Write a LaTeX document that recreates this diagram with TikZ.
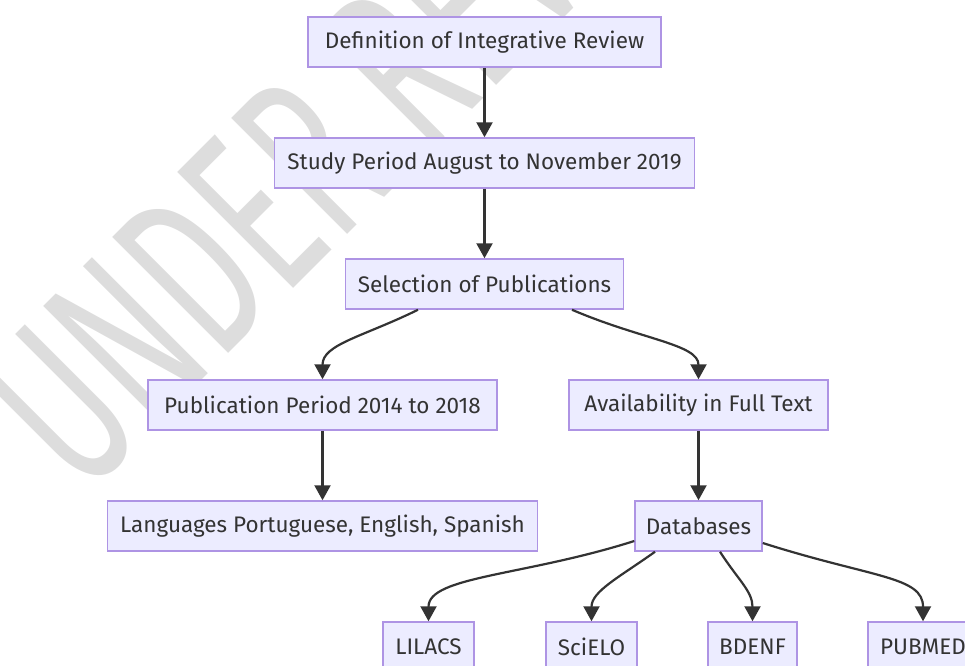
\documentclass[tikz,border=0pt]{standalone}
\usepackage{fontspec}
\setmainfont{Fira Sans}
\usetikzlibrary{positioning,arrows.meta}
\definecolor{boxfill}{HTML}{ECECFF}
\definecolor{boxline}{HTML}{AE94E4}
\definecolor{ink}{HTML}{333333}
\definecolor{wmark}{HTML}{DDDDDD}

\begin{document}
\begin{tikzpicture}[x=1pt,y=1pt,>={Triangle[length=15pt,width=16pt]},
  box/.style={rectangle,draw=boxline,fill=boxfill,line width=1.5pt,text=ink,inner sep=0pt,
    minimum height=50pt,font=\fontsize{22.5}{24}\selectfont},
  link/.style={->,draw=ink,line width=2.2pt}]
\clip (0,0) rectangle (965,-665);
\useasboundingbox (0,0) rectangle (965,-665);

% watermark behind everything
\node[rotate=45,xscale=0.6,anchor=base west,text=wmark,inner sep=0pt,
  font=\fontsize{238}{238}\selectfont] (wm) at (83,-499) {UNDER REVIEW};

\path
(484.5,-42)  node[box,minimum width=353pt] (def)   {Definition of Integrative Review}
(484.5,-163) node[box,minimum width=420pt] (study) {Study Period August to November 2019}
(484.5,-284) node[box,minimum width=278pt] (sel)   {Selection of Publications}
(322.5,-405) node[box,minimum width=349pt] (pub)   {Publication Period 2014 to 2018}
(698.5,-405) node[box,minimum width=259pt] (avail) {Availability in Full Text}
(322.5,-526) node[box,minimum width=430pt] (lang)  {Languages Portuguese, English, Spanish}
(698.5,-526) node[box,minimum width=127pt] (db)    {Databases}
(428.5,-647) node[box,minimum width=91pt]  (lil)   {LILACS}
(591.5,-647) node[box,minimum width=91pt]  (sci)   {SciELO}
(752.5,-647) node[box,minimum width=89pt]  (bde)   {BDENF}
(923,-647)   node[box,minimum width=110pt] (pmd)   {PUBMED};

\draw[link] (def)--(study);
\draw[link] (study)--(sel);
\draw[link] ([xshift=-66.5pt]sel.south) .. controls +(-55,-27) and +(0,35) .. (pub.north);
\draw[link] ([xshift=87.5pt]sel.south) .. controls +(70,-30) and +(0,35) .. (avail.north);
\draw[link] (pub)--(lang);
\draw[link] (avail)--(db);

\draw[link] ([yshift=-15pt]db.west) .. controls +(-110,-35) and +(0,45) .. (lil.north);
\draw[link] ([xshift=-43.5pt]db.south) .. controls +(-35,-25) and +(0,30) .. (sci.north);
\draw[link] ([xshift=21.5pt]db.south) .. controls +(18,-28) and +(0,30) .. (bde.north);
\draw[link] ([yshift=-17pt]db.east) .. controls +(110,-35) and +(0,45) .. (pmd.north);
\end{tikzpicture}
\end{document}
